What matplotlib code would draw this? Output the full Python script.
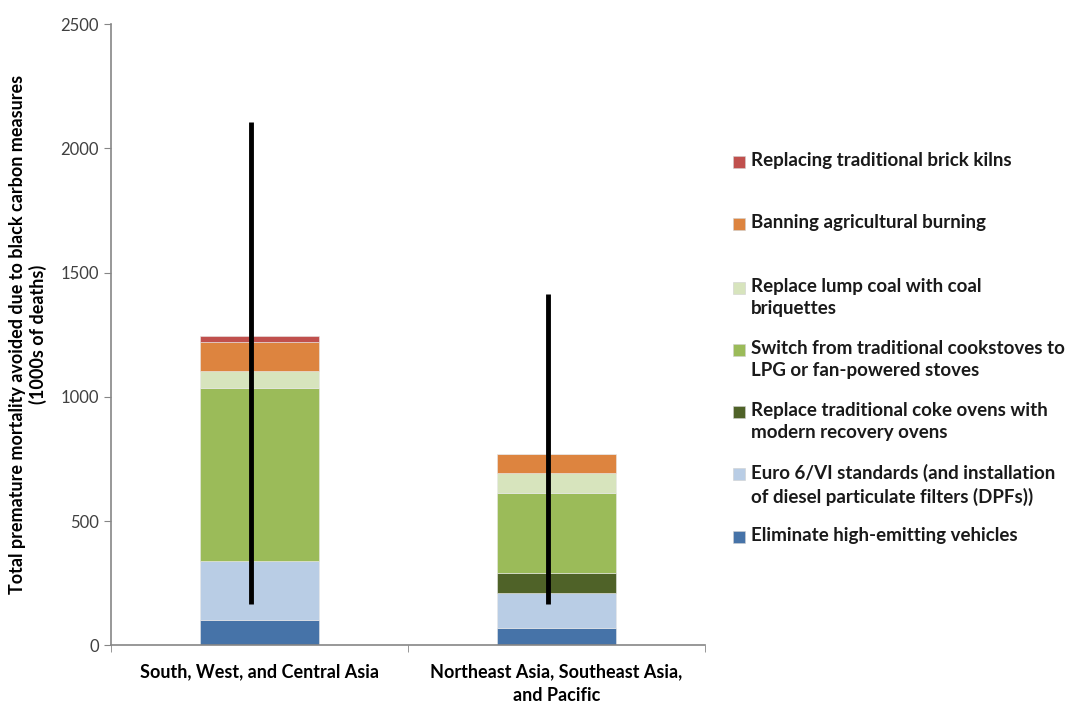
import numpy as np
import matplotlib.pyplot as plt
from matplotlib.patches import Rectangle

plt.rcParams['font.family'] = ['Lato', 'DejaVu Sans']

regions = ['South, West, and Central Asia', 'Northeast Asia, Southeast Asia,\nand Pacific']

# measures, bottom to top of stack
measures = ['Eliminate high-emitting vehicles',
            'Euro 6/VI standards (and installation\nof diesel particulate filters (DPFs))',
            'Replace traditional coke ovens with\nmodern recovery ovens',
            'Switch from traditional cookstoves to\nLPG or fan-powered stoves',
            'Replace lump coal with coal\nbriquettes',
            'Banning agricultural burning',
            'Replacing traditional brick kilns']
colors = ['#4673A8', '#B9CDE5', '#4F6228', '#9BBB59', '#D7E4BD', '#DD843F', '#C0504D']

vehicles = [100, 70]
euro = [238, 140]
coke = [0, 80]
cookstoves = [697, 322]
coal = [68, 80]
ag_burning = [117, 79]
brick = [26, 0]

err_low = [167, 167]
err_high = [2105, 1415]

series = [vehicles, euro, coke, cookstoves, coal, ag_burning, brick]

fig = plt.figure(figsize=(10.88, 7.06), dpi=100)
ax = fig.add_axes([0.102, 0.086, 0.546, 0.88])

x = np.arange(len(regions))
bottom = np.zeros(len(regions))
for vals, c in zip(series, colors):
    ax.bar(x, vals, 0.4, bottom=bottom, color=c, edgecolor='#e8e8e8', linewidth=0.4)
    bottom += np.array(vals)

# range lines
ax.vlines(x - 0.03, err_low, err_high, color='black', linewidth=3.5, zorder=3)

ax.set_xlim(-0.5, 1.5)
ax.set_ylim(0, 2500)
ax.set_yticks(np.arange(0, 2501, 500))
ax.tick_params(axis='y', labelsize=12, labelcolor='#404040', color='#868686',
               length=5, direction='out')
ax.set_xticks(x)
ax.set_xticklabels(regions, fontsize=13, fontweight='bold', color='black',
                   linespacing=1.45)
ax.tick_params(axis='x', which='major', length=0, pad=13)
ax.set_xticks([-0.5, 0.5, 1.5], minor=True)
ax.tick_params(axis='x', which='minor', length=5, color='#868686')

for s in ['top', 'right']:
    ax.spines[s].set_visible(False)
for s in ['left', 'bottom']:
    ax.spines[s].set_color('#868686')
    ax.spines[s].set_linewidth(1.2)

ax.set_ylabel('Total premature mortality avoided due to black carbon measures\n(1000s of deaths)',
              fontsize=13, fontweight='bold', labelpad=10, linespacing=1.15)

# legend, drawn top to bottom like the Excel one
leg_y = [162, 224, 288, 350, 412, 474, 537]
for i, (lab, c) in enumerate(zip(measures[::-1], colors[::-1])):
    yc = 1 - leg_y[i] / 706
    fig.patches.append(Rectangle((733 / 1088, yc - 6 / 706), 12 / 1088, 12 / 706,
                                 transform=fig.transFigure, facecolor=c,
                                 edgecolor='#d0d0d0', linewidth=0.4))
    fig.text(751 / 1088, yc + 10 / 706, lab, fontsize=13.5, fontweight='bold',
             va='top', ha='left', linespacing=1.37, color='#1a1a1a')

fig.savefig('out.png', dpi=100)
